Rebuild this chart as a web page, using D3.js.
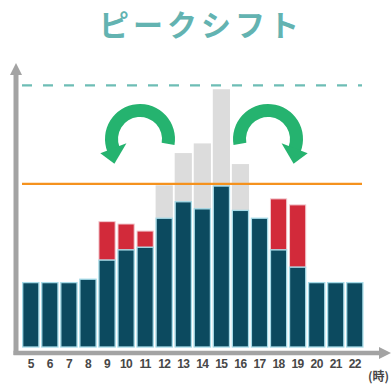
<!DOCTYPE html>
<html>
<head>
<meta charset="utf-8">
<script src="https://cdn.jsdelivr.net/npm/d3@7"></script>
<style>
  html, body { margin: 0; padding: 0; background: #ffffff; }
  svg { display: block; }
</style>
</head>
<body>
<svg id="chart" width="392" height="384"></svg>
<script>
// Hours of the day (x axis)
const hours = [5, 6, 7, 8, 9, 10, 11, 12, 13, 14, 15, 16, 17, 18, 19, 20, 21, 22];
// Demand after the shift (dark bars)
const baseLoad = [24.6, 24.6, 24.6, 25.9, 33.2, 37.1, 38.1, 49.2, 55.5, 52.8, 61.5, 52.2, 49.2, 37.1, 30.5, 24.6, 24.6, 24.6];
// Demand moved into off-peak hours (red, stacked on the dark bars)
const shiftedIn = [0, 0, 0, 0, 14.7, 9.9, 6.2, 0, 0, 0, 0, 0, 0, 19.5, 23.8, 0, 0, 0];
// Original demand before the shift (grey, behind)
const originalLoad = [0, 0, 0, 0, 0, 0, 0, 61.8, 74.1, 77.8, 98.5, 69.9, 0, 0, 0, 0, 0, 0];
// Reference levels
const capLevel = 62.3;   // orange line
const peakLevel = 100;   // dashed line
const titleText = "ピークシフト";
const unitLabel = "(時)";

const svg = d3.select("#chart");

const x = d3.scaleBand()
  .domain(hours)
  .range([22.7, 362.9])
  .paddingInner(0.15)
  .paddingOuter(0);

const y = d3.scaleLinear()
  .domain([0, 100])
  .range([347, 85.3]);

// Title
svg.append("text")
  .attr("x", 201)
  .attr("y", 36)
  .attr("text-anchor", "middle")
  .attr("font-family", "'Noto Sans CJK JP', 'Noto Sans', sans-serif")
  .attr("font-weight", 700)
  .attr("font-size", 30)
  .attr("letter-spacing", 4)
  .attr("fill", "#63b3b1")
  .text(titleText);

// Dashed reference line
svg.append("line")
  .attr("x1", 22).attr("x2", 362)
  .attr("y1", y(peakLevel)).attr("y2", y(peakLevel))
  .attr("stroke", "#6dbdb5")
  .attr("stroke-width", 2.2)
  .attr("stroke-dasharray", "10,11");

// Grey original bars
svg.append("g").selectAll("rect")
  .data(hours.map((h, i) => ({ h, v: originalLoad[i] })).filter(d => d.v > 0))
  .join("rect")
  .attr("x", d => x(d.h) - 0.5)
  .attr("width", x.bandwidth() + 1)
  .attr("y", d => y(d.v))
  .attr("height", d => y(0) - y(d.v))
  .attr("fill", "#dcdcdc");

// Red shifted portions
svg.append("g").selectAll("rect")
  .data(hours.map((h, i) => ({ h, b: baseLoad[i], v: shiftedIn[i] })).filter(d => d.v > 0))
  .join("rect")
  .attr("x", d => x(d.h))
  .attr("width", x.bandwidth())
  .attr("y", d => y(d.b + d.v))
  .attr("height", d => y(d.b) - y(d.b + d.v))
  .attr("fill", "#d22a3a")
  .attr("stroke", "#f1c9cf")
  .attr("stroke-width", 1);

// Dark bars
svg.append("g").selectAll("rect")
  .data(hours.map((h, i) => ({ h, v: baseLoad[i] })))
  .join("rect")
  .attr("x", d => x(d.h))
  .attr("width", x.bandwidth())
  .attr("y", d => y(d.v))
  .attr("height", d => y(0) - y(d.v))
  .attr("fill", "#0c4a5f")
  .attr("stroke", "#a6dbe8")
  .attr("stroke-width", 1.3);

// Orange cap line
svg.append("line")
  .attr("x1", 22).attr("x2", 362)
  .attr("y1", y(capLevel)).attr("y2", y(capLevel))
  .attr("stroke", "#f5921e")
  .attr("stroke-width", 2.2);

// Axes (grey arrows)
const axisColor = "#a3a3a3";
svg.append("line")
  .attr("x1", 16).attr("x2", 16)
  .attr("y1", 72).attr("y2", 355)
  .attr("stroke", axisColor).attr("stroke-width", 5);
svg.append("path")
  .attr("d", "M16,63 L22,75 L10,75 Z")
  .attr("fill", axisColor);
svg.append("line")
  .attr("x1", 13.5).attr("x2", 380)
  .attr("y1", 353).attr("y2", 353)
  .attr("stroke", axisColor).attr("stroke-width", 4.5);
svg.append("path")
  .attr("d", "M391,353 L379,347 L379,359 Z")
  .attr("fill", axisColor);

// Hour labels
svg.append("g").selectAll("text")
  .data(hours)
  .join("text")
  .attr("x", d => x(d) + x.bandwidth() / 2)
  .attr("y", 368)
  .attr("text-anchor", "middle")
  .attr("font-family", "'Liberation Sans', Arial, sans-serif")
  .attr("font-weight", 700)
  .attr("font-size", 12)
  .attr("letter-spacing", -0.6)
  .attr("fill", "#474747")
  .text(d => d);

svg.append("text")
  .attr("x", 389)
  .attr("y", 381)
  .attr("text-anchor", "end")
  .attr("font-family", "'Noto Sans CJK JP', sans-serif")
  .attr("font-weight", 700)
  .attr("font-size", 12)
  .attr("fill", "#474747")
  .text(unitLabel);

// Curved green arrows showing demand moving out of the peak
const green = "#25b36f";
function curvedArrow(cx, cy, mirror) {
  const rIn = 22, rOut = 35, rMid = (rIn + rOut) / 2;
  const a0 = -111 * Math.PI / 180, a1 = 100 * Math.PI / 180;
  const g = svg.append("g")
    .attr("transform", mirror
      ? `translate(${cx},${cy}) scale(-1,1)`
      : `translate(${cx},${cy})`);
  g.append("path")
    .attr("d", d3.arc().innerRadius(rIn).outerRadius(rOut).startAngle(a0).endAngle(a1)())
    .attr("fill", green);
  const ux = Math.sin(a0), uy = -Math.cos(a0);
  const bx = ux * rMid, by = uy * rMid;
  const half = 14;
  const tip = [bx + 1, by + 14.5];
  g.append("path")
    .attr("d", `M${bx + ux * half},${by + uy * half - 1} L${bx - ux * half},${by - uy * half - 1} L${tip[0]},${tip[1]} Z`)
    .attr("fill", green);
}
curvedArrow(140, 139, false);
curvedArrow(268, 139, true);
</script>
</body>
</html>
